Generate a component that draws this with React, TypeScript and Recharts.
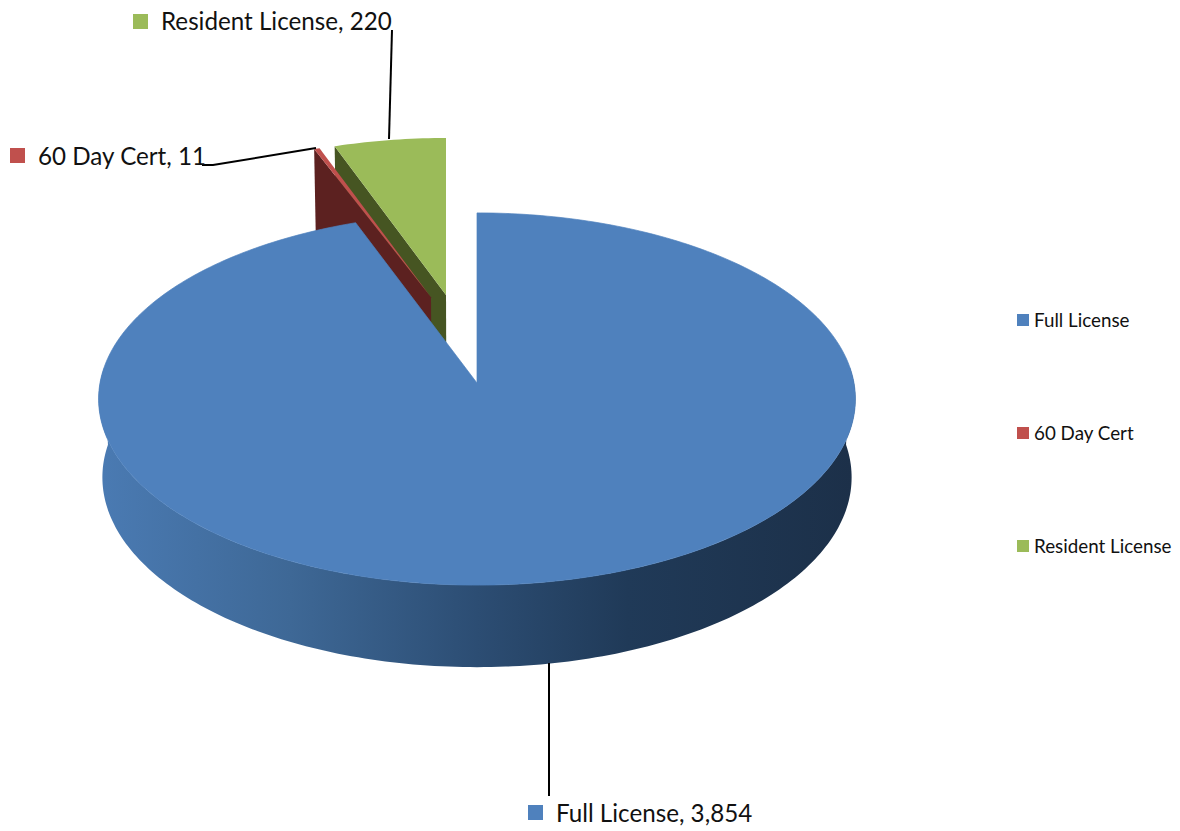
import React from "react";
import { PieChart, Pie, Legend } from "recharts";

const CATEGORIES = ["Full License", "60 Day Cert", "Resident License"];
const COUNTS = [3854, 11, 220];
const FILLS = ["#4f81bd", "#c0504d", "#9bbb59"];

// drawn back to front, so the big slice ends up on top of the pulled out ones
const rows = CATEGORIES.map((name, i) => ({ name, value: COUNTS[i], fill: FILLS[i] })).reverse();

const FONT = "Lato, 'Noto Sans', sans-serif";
const TILT = 0.49; // vertical squash of the disc
const PERSP = 0.086; // far edge shrinks a bit
const BOTTOM_SCALE = 0.99;

// pulled out slices: x in radius units on screen, y in disc units
const EXPLODE: Record<string, [number, number]> = {
  "Full License": [0, 0],
  "60 Day Cert": [-0.122, 0.484],
  "Resident License": [-0.0822, 0.497],
};
const WALLS: Record<string, string> = {
  "60 Day Cert": "#5c2120",
  "Resident License": "#465522",
};
const LABELS: Record<string, { x: number; y: number; base: number; line: string }> = {
  "Full License": { x: 528, y: 805, base: 822, line: "549,663 549,796" },
  "60 Day Cert": { x: 10, y: 148, base: 165, line: "202,165 213,165 316,148" },
  "Resident License": { x: 133, y: 14, base: 30, line: "392,30 389,139" },
};

function Slice(props: any) {
  const { cx, cy, outerRadius: R, startAngle, endAngle, name, fill } = props;
  const [ox, oy] = EXPLODE[name];
  const isFull = name === "Full License";
  // the big slice has a slightly rounder lower rim than the pulled out ones
  const depth = isFull ? 78 : 84;
  const lowTilt = isFull ? 1.02 : BOTTOM_SCALE;
  const project = (deg: number, r: number, bottom = false) => {
    const t = (deg * Math.PI) / 180;
    const u = r * Math.cos(t);
    const v = r * Math.sin(t) + oy;
    const w = 1 + PERSP * v;
    const sx = bottom ? BOTTOM_SCALE : 1;
    const sy = bottom ? lowTilt : 1;
    return [cx + sx * R * (u / w + ox), cy + (bottom ? depth : 0) - (sy * R * TILT * v) / w];
  };
  const toPath = (pts: number[][]) => "M" + pts.map((p) => p.join(",")).join("L") + "Z";
  const face = () => {
    const pts = [project(startAngle, 0)];
    for (let d = startAngle; d < endAngle; d += 1) pts.push(project(d, 1));
    pts.push(project(endAngle, 1));
    return toPath(pts);
  };
  let wall: React.ReactNode;
  if (isFull) {
    // front band of the disc, between the two rims
    const pts: number[][] = [];
    for (let d = 175; d <= 365; d += 1) pts.push(project(d, 1));
    for (let d = 365; d >= 175; d -= 1) pts.push(project(d, 1, true));
    wall = <path d={toPath(pts)} fill="url(#sideFade)" />;
  } else {
    wall = (
      <path
        d={toPath([
          project(endAngle, 1),
          project(startAngle, 0),
          project(startAngle, 0, true),
          project(endAngle, 1, true),
        ])}
        fill={WALLS[name]}
      />
    );
  }
  return (
    <g>
      {isFull && (
        <defs>
          <linearGradient id="sideFade" gradientUnits="userSpaceOnUse" x1={103} y1={0} x2={852} y2={0}>
            <stop offset="0%" stopColor="#4a7ab2" />
            <stop offset="25%" stopColor="#3e6896" />
            <stop offset="50%" stopColor="#2c4d73" />
            <stop offset="70%" stopColor="#203a58" />
            <stop offset="100%" stopColor="#1c3049" />
          </linearGradient>
        </defs>
      )}
      {wall}
      <path d={face()} fill={fill} stroke={isFull ? fill : "none"} strokeWidth={0.7} />
    </g>
  );
}

function DataLabel(props: any) {
  const { name, value, fill } = props;
  const pos = LABELS[name];
  return (
    <g>
      <polyline points={pos.line} fill="none" stroke="#000" strokeWidth={2} />
      <rect x={pos.x} y={pos.y} width={15} height={15} fill={fill} />
      <text x={pos.x + 28} y={pos.base} fontFamily={FONT} fontSize={24.2} fill="#111">
        {`${name}, ${value.toLocaleString("en-US")}`}
      </text>
    </g>
  );
}

function SideLegend() {
  return (
    <div style={{ fontFamily: FONT, fontSize: 18.8, color: "#111" }}>
      {CATEGORIES.map((name, i) => (
        <div key={name} style={{ height: 113, whiteSpace: "nowrap", position: "relative" }}>
          <span style={{ position: "absolute", left: 0, top: 3, width: 12, height: 12, background: FILLS[i] }} />
          <span style={{ position: "absolute", left: 17, top: -3 }}>{name}</span>
        </div>
      ))}
    </div>
  );
}

export default function App() {
  return (
    <div style={{ position: "absolute", left: 0, top: 0, width: 1180, height: 831, background: "#fff" }}>
      <PieChart width={1180} height={831} margin={{ top: 0, right: 0, bottom: 0, left: 0 }}>
        <Pie
          data={rows}
          dataKey="value"
          nameKey="name"
          cx={477}
          cy={383}
          outerRadius={377}
          startAngle={90}
          endAngle={450}
          isAnimationActive={false}
          stroke="none"
          shape={Slice}
          label={DataLabel}
          labelLine={false}
        />
        <Legend
          layout="vertical"
          align="right"
          verticalAlign="top"
          content={SideLegend}
          wrapperStyle={{ left: 1017, top: 311, width: 160 }}
        />
      </PieChart>
    </div>
  );
}
